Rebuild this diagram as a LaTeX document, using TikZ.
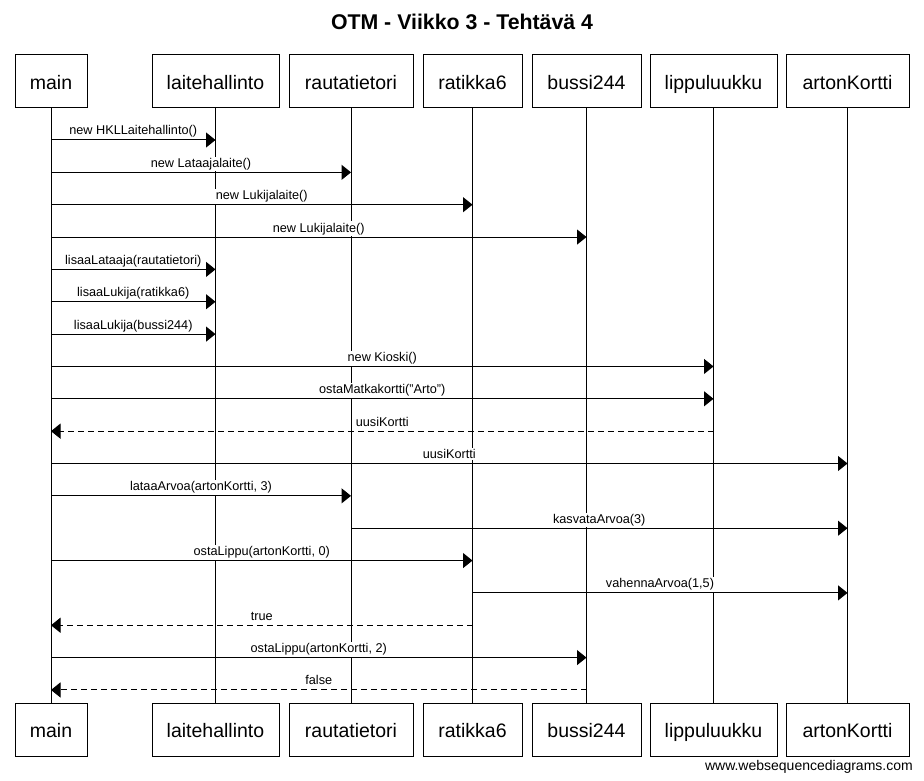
\documentclass[tikz,border=0pt]{standalone}
\usepackage{fontspec}
\setmainfont{Liberation Sans}
\usetikzlibrary{arrows.meta,calc}
\tikzset{
  part/.style={draw, line width=1pt, minimum height=53pt, inner sep=0pt, text height=20.5pt, text depth=4pt, font=\fontsize{19.5}{22}\selectfont},
  life/.style={line width=1pt},
  lbl/.style={anchor=base, yshift=5pt, fill=white, inner xsep=0.5pt, inner ysep=1.5pt, font=\fontsize{12.7}{14}\selectfont},
  call/.style={line width=1pt, -{Triangle[length=9.5pt,width=15pt]}},
  ret/.style={line width=1pt, dash pattern=on 6pt off 4pt, -{Triangle[length=9.5pt,width=15pt]}},
}
\newcommand\seqmsg[6]{%
  \coordinate (#1a) at (#3 |- 0,#2);
  \coordinate (#1b) at (#4 |- 0,#2);
  \node[lbl] (#1l) at ($(#1a)!.5!(#1b)$) {#5};
  \draw[#6] (#1a) -- (#1b);
}
\begin{document}
\begin{tikzpicture}[x=1pt,y=-1pt]
\useasboundingbox (0,0) rectangle (924,781);
\node[inner sep=0pt] (title) at (462,22) {\fontsize{21.3}{24}\selectfont\bfseries OTM - Viikko 3 - Tehtävä 4};
% top participants
\node[part, minimum width=72pt]  (mainT) at (51,81.5) {main};
\node[part, minimum width=127pt] (laiT)  at (215.5,81.5) {laitehallinto};
\node[part, minimum width=124pt] (rauT)  at (351,81.5) {rautatietori};
\node[part, minimum width=99pt]  (ratT)  at (472.5,81.5) {ratikka6};
\node[part, minimum width=109pt] (busT)  at (586.5,81.5) {bussi244};
\node[part, minimum width=127pt] (lipT)  at (713.5,81.5) {lippuluukku};
\node[part, minimum width=123pt] (artT)  at (847.5,81.5) {artonKortti};
% bottom participants
\node[part, minimum width=72pt]  (mainB) at (51,729.5) {main};
\node[part, minimum width=127pt] (laiB)  at (215.5,729.5) {laitehallinto};
\node[part, minimum width=124pt] (rauB)  at (351,729.5) {rautatietori};
\node[part, minimum width=99pt]  (ratB)  at (472.5,729.5) {ratikka6};
\node[part, minimum width=109pt] (busB)  at (586.5,729.5) {bussi244};
\node[part, minimum width=127pt] (lipB)  at (713.5,729.5) {lippuluukku};
\node[part, minimum width=123pt] (artB)  at (847.5,729.5) {artonKortti};
% lifelines
\draw[life] (mainT) -- (mainB);
\draw[life] (laiT) -- (laiB);
\draw[life] (rauT) -- (rauB);
\draw[life] (ratT) -- (ratB);
\draw[life] (busT) -- (busB);
\draw[life] (lipT) -- (lipB);
\draw[life] (artT) -- (artB);
% messages
\seqmsg{m1}{140}{mainT}{laiT}{new HKLLaitehallinto()}{call}
\seqmsg{m2}{172.35}{mainT}{rauT}{new Lataajalaite()}{call}
\seqmsg{m3}{204.7}{mainT}{ratT}{new Lukijalaite()}{call}
\seqmsg{m4}{237.05}{mainT}{busT}{new Lukijalaite()}{call}
\seqmsg{m5}{269.4}{mainT}{laiT}{lisaaLataaja(rautatietori)}{call}
\seqmsg{m6}{301.75}{mainT}{laiT}{lisaaLukija(ratikka6)}{call}
\seqmsg{m7}{334.1}{mainT}{laiT}{lisaaLukija(bussi244)}{call}
\seqmsg{m8}{366.45}{mainT}{lipT}{new Kioski()}{call}
\seqmsg{m9}{398.8}{mainT}{lipT}{ostaMatkakortti("Arto")}{call}
\seqmsg{m10}{431.15}{lipT}{mainT}{uusiKortti}{ret}
\seqmsg{m11}{463.5}{mainT}{artT}{uusiKortti}{call}
\seqmsg{m12}{495.85}{mainT}{rauT}{lataaArvoa(artonKortti, 3)}{call}
\seqmsg{m13}{528.2}{rauT}{artT}{kasvataArvoa(3)}{call}
\seqmsg{m14}{560.55}{mainT}{ratT}{ostaLippu(artonKortti, 0)}{call}
\seqmsg{m15}{592.9}{ratT}{artT}{vahennaArvoa(1,5)}{call}
\seqmsg{m16}{625.25}{ratT}{mainT}{true}{ret}
\seqmsg{m17}{657.6}{mainT}{busT}{ostaLippu(artonKortti, 2)}{call}
\seqmsg{m18}{689.95}{busT}{mainT}{false}{ret}
\node[anchor=base east, font=\fontsize{14}{16}\selectfont, inner sep=0pt] (wm) at (913,770) {www.websequencediagrams.com};
\end{tikzpicture}
\end{document}
